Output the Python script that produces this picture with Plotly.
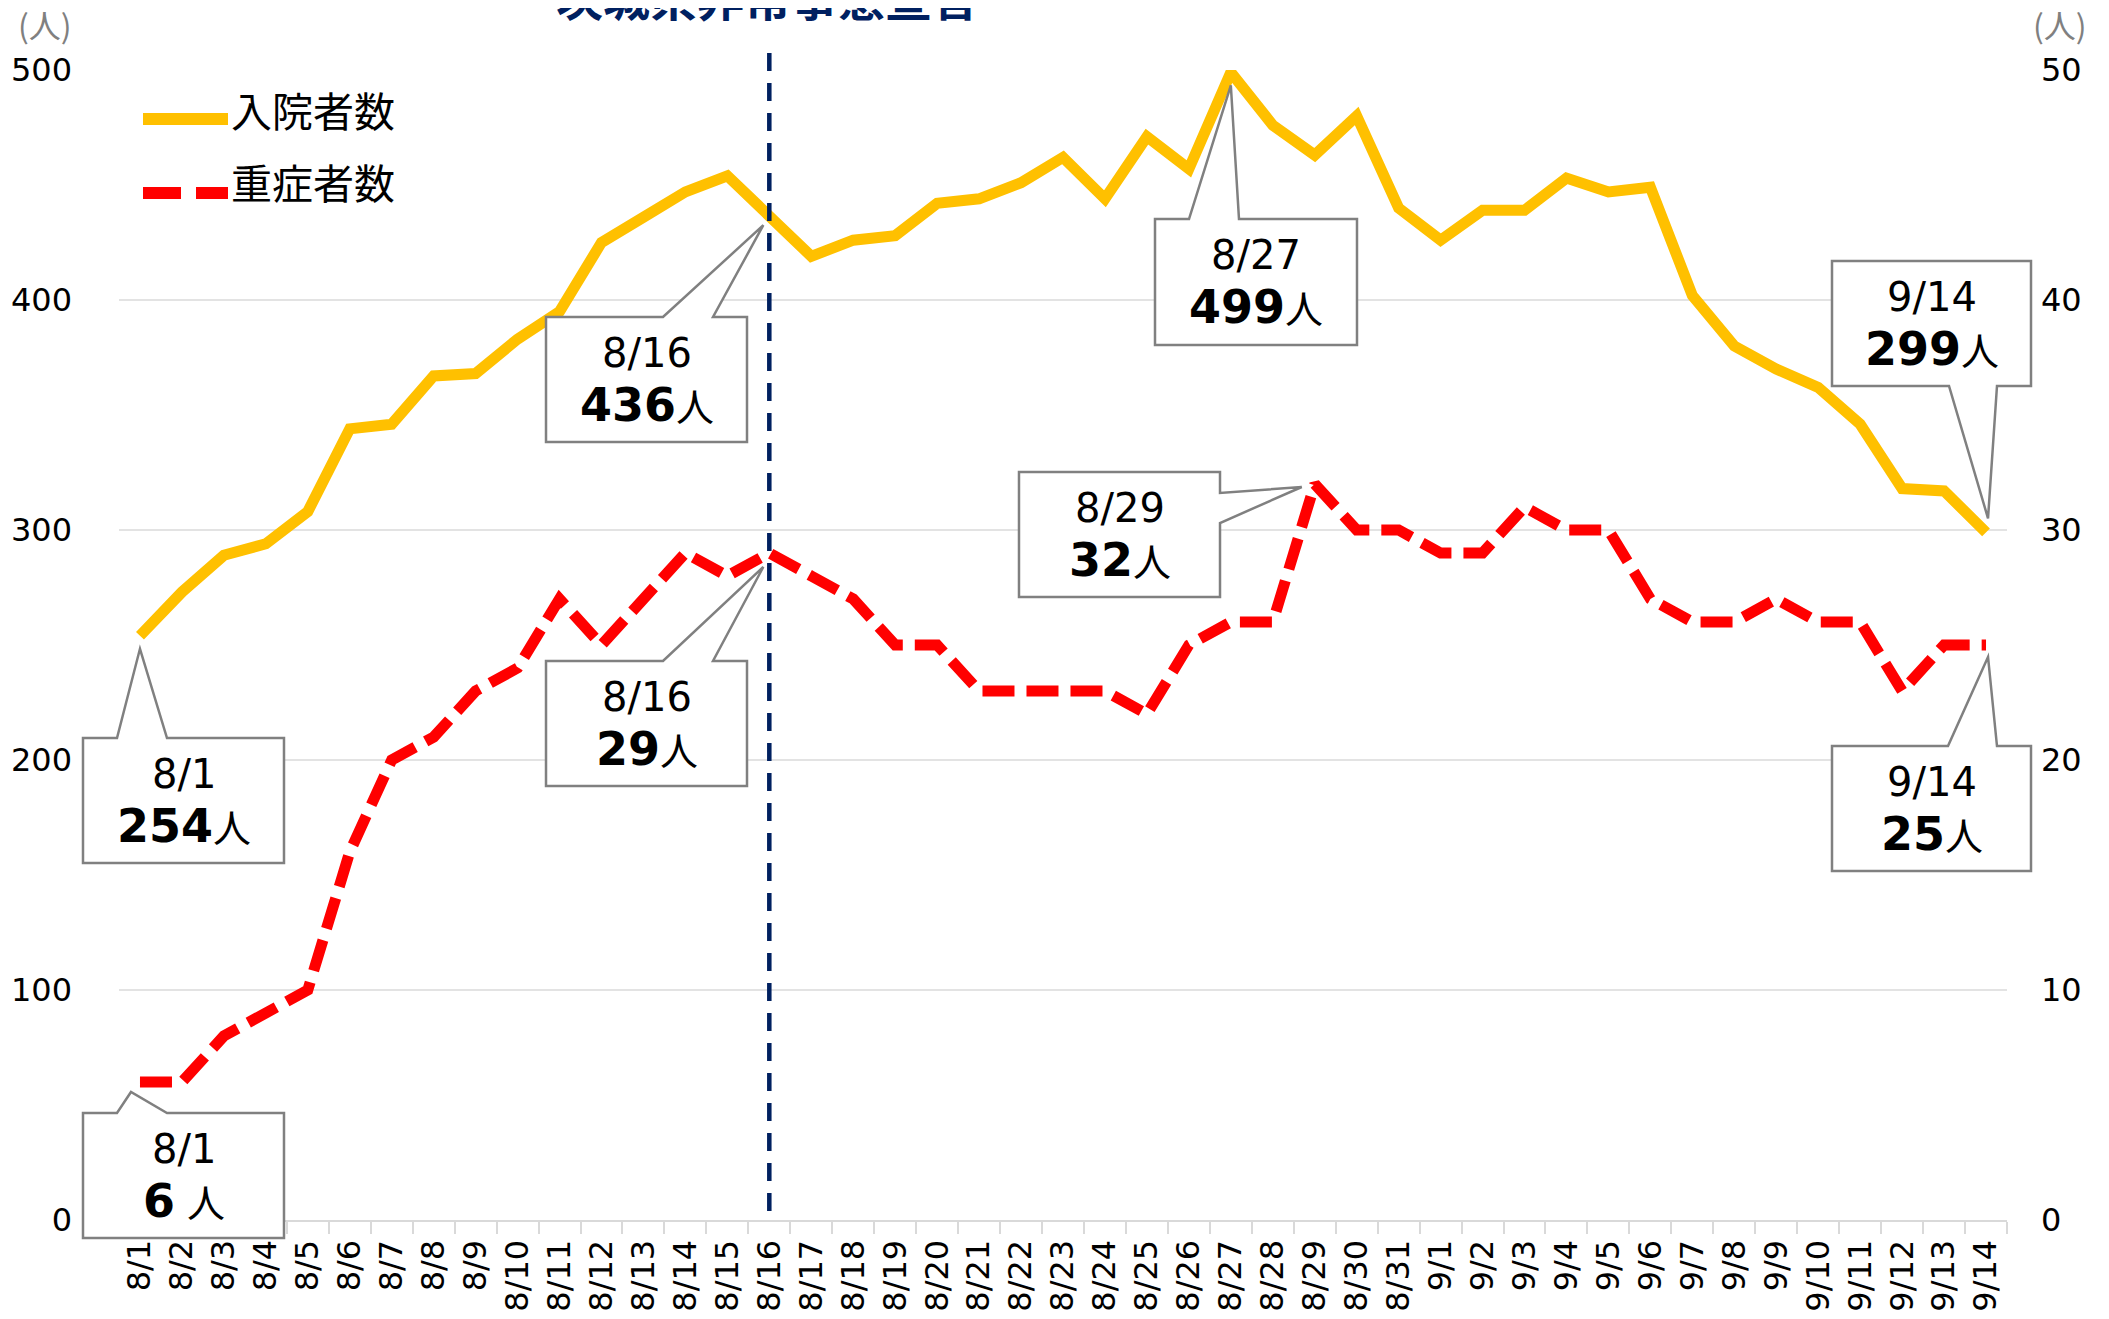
import plotly.graph_objects as go

# ---------------- data ----------------
dates = ["8/1", "8/2", "8/3", "8/4", "8/5", "8/6", "8/7", "8/8", "8/9", "8/10",
         "8/11", "8/12", "8/13", "8/14", "8/15", "8/16", "8/17", "8/18", "8/19", "8/20",
         "8/21", "8/22", "8/23", "8/24", "8/25", "8/26", "8/27", "8/28", "8/29", "8/30",
         "8/31", "9/1", "9/2", "9/3", "9/4", "9/5", "9/6", "9/7", "9/8", "9/9",
         "9/10", "9/11", "9/12", "9/13", "9/14"]
hospitalized = [254, 273, 289, 294, 308, 344, 346, 367, 368, 383,
                395, 425, 436, 447, 454, 436, 419, 426, 428, 442,
                444, 451, 462, 444, 471, 457, 499, 476, 463, 480,
                440, 426, 439, 439, 453, 447, 449, 402, 380, 370,
                362, 346, 318, 317, 299]
severe = [6, 6, 8, 9, 10, 16, 20, 21, 23, 24,
          27, 25, 27, 29, 28, 29, 28, 27, 25, 25,
          23, 23, 23, 23, 22, 25, 26, 26, 32, 30,
          30, 29, 29, 31, 30, 30, 27, 26, 26, 27,
          26, 26, 23, 25, 25]
left_ticks = [0, 100, 200, 300, 400, 500]
right_ticks = [0, 10, 20, 30, 40, 50]
series_names = ["入院者数", "重症者数"]
title_text = "茨城県非常事態宣言"
declaration_date = "8/16"

# ---------------- layout geometry (page pixels) ----------------
W, H = 2109, 1319
OFF = 8  # default body margin of the html page
L, R, T, B = 119, 102, 70, 99          # plot area in page coordinates
PW, PH = W - L - R, H - T - B
N = len(dates)
YELLOW = "#FFC000"
RED = "#FF0000"
NAVY = "#002060"
GRAY = "#808080"
FONT = "DejaVu Sans, Noto Sans CJK JP, sans-serif"
JFONT = "Noto Sans CJK JP, sans-serif"


def px_x(X):
    return (X - L) / PW


def px_y(Y):
    return (H - B - Y) / PH


def point_px(i, v, vmax):
    X = L + (i + 0.5) * PW / N
    Y = H - B - v / vmax * PH
    return X, Y


fig = go.Figure()
fig.add_trace(go.Scatter(x=dates, y=hospitalized, mode="lines", name=series_names[0],
                         line=dict(color=YELLOW, width=11), yaxis="y", showlegend=False))
fig.add_trace(go.Scatter(x=dates, y=severe, mode="lines", name=series_names[1],
                         line=dict(color=RED, width=11, dash="32px,12px"), yaxis="y2",
                         showlegend=False))

shapes = []
annotations = []

# declaration vertical dashed line (drawn top -> bottom so the dash pattern starts at the top)
shapes.append(dict(type="line", xref="x", yref="paper",
                   x0=dates.index(declaration_date), x1=dates.index(declaration_date),
                   y0=px_y(53), y1=0, line=dict(color=NAVY, width=4.5, dash="18px,12px"),
                   layer="above"))
annotations.append(dict(text="<b>" + title_text + "</b>", xref="paper", yref="paper",
                        x=px_x(767), y=px_y(32), xanchor="center", yanchor="bottom",
                        showarrow=False, font=dict(family=JFONT, size=47, color=NAVY)))

# callouts: (index, series, box(x0,y0,x1,y1), side, wedge base (a,b), tip offset, number, suffix)
callouts = [
    (0, "h", (83, 738, 284, 863), "top", (117, 167), (0, 13), "254", "人"),
    (0, "s", (83, 1113, 284, 1238), "top", (117, 167), (-9, 10), "6", " 人"),
    (15, "h", (546, 317, 747, 442), "top", (663, 713), (-6, 8), "436", "人"),
    (15, "s", (546, 661, 747, 786), "top", (663, 713), (-6, 14), "29", "人"),
    (26, "h", (1155, 219, 1357, 345), "top", (1189, 1239), (0, 13), "499", "人"),
    (28, "s", (1019, 472, 1220, 597), "right", (493, 523), (-13, 3), "32", "人"),
    (44, "h", (1832, 261, 2031, 386), "bottom", (1949, 1997), (2, -14), "299", "人"),
    (44, "s", (1832, 746, 2031, 871), "top", (1948, 1997), (2, 12), "25", "人"),
]

for i, s, (x0, y0, x1, y1), side, (a, b), (dx, dy), num, suf in callouts:
    v = hospitalized[i] if s == "h" else severe[i]
    vmax = 500 if s == "h" else 50
    tx, ty = point_px(i, v, vmax)
    tx, ty = tx + dx, ty + dy
    if side == "top":
        pts = [(x0, y0), (a, y0), (tx, ty), (b, y0), (x1, y0), (x1, y1), (x0, y1)]
    elif side == "bottom":
        pts = [(x0, y0), (x1, y0), (x1, y1), (b, y1), (tx, ty), (a, y1), (x0, y1)]
    else:  # right
        pts = [(x0, y0), (x1, y0), (x1, a), (tx, ty), (x1, b), (x1, y1), (x0, y1)]
    path = "M " + " L ".join(f"{px_x(X):.5f},{px_y(Y):.5f}" for X, Y in pts) + " Z"
    shapes.append(dict(type="path", xref="paper", yref="paper", path=path,
                       fillcolor="white", line=dict(color=GRAY, width=2.5), layer="above"))
    cx = (x0 + x1) / 2
    annotations.append(dict(text=dates[i], xref="paper", yref="paper", x=px_x(cx),
                            y=px_y(y0 + 36), xanchor="center", yanchor="middle",
                            showarrow=False, font=dict(family=FONT, size=40, color="black")))
    annotations.append(dict(text=f"<b>{num}</b><span style='font-size:38px'>{suf}</span>",
                            xref="paper", yref="paper", x=px_x(cx), y=px_y(y0 + 88),
                            xanchor="center", yanchor="middle", showarrow=False,
                            font=dict(family=FONT, size=46, color="black")))

# manual legend
shapes.append(dict(type="line", xref="paper", yref="paper", x0=px_x(143), x1=px_x(228),
                   y0=px_y(119), y1=px_y(119), line=dict(color=YELLOW, width=12), layer="above"))
for a, b in [(143, 181), (196, 228)]:
    shapes.append(dict(type="line", xref="paper", yref="paper", x0=px_x(a), x1=px_x(b),
                       y0=px_y(193), y1=px_y(193), line=dict(color=RED, width=12), layer="above"))
annotations.append(dict(text=series_names[0], xref="paper", yref="paper", x=px_x(229), y=px_y(109),
                        xanchor="left", yanchor="middle", showarrow=False,
                        font=dict(family=JFONT, size=41, color="black")))
annotations.append(dict(text=series_names[1], xref="paper", yref="paper", x=px_x(229), y=px_y(181),
                        xanchor="left", yanchor="middle", showarrow=False,
                        font=dict(family=JFONT, size=41, color="black")))

# unit labels
annotations.append(dict(text="(人)", xref="paper", yref="paper", x=px_x(45), y=px_y(24),
                        xanchor="center", yanchor="middle", showarrow=False,
                        font=dict(family=JFONT, size=32, color=GRAY)))
annotations.append(dict(text="(人)", xref="paper", yref="paper", x=px_x(2060), y=px_y(24),
                        xanchor="center", yanchor="middle", showarrow=False,
                        font=dict(family=JFONT, size=32, color=GRAY)))

fig.update_layout(
    width=W, height=H,
    margin=dict(l=L - OFF, r=R + OFF, t=T - OFF, b=B + OFF, autoexpand=False),
    paper_bgcolor="white", plot_bgcolor="white",
    showlegend=False,
    xaxis=dict(type="category", categoryorder="array", categoryarray=dates,
               range=[-0.5, N - 0.5], tickangle=-90, tickson="boundaries",
               ticks="outside", ticklen=12, tickcolor="#d9d9d9", tickwidth=2,
               showline=True, linecolor="#d9d9d9", linewidth=2, showgrid=False,
               zeroline=False, automargin=False, ticklabelstandoff=5,
               tickfont=dict(family=FONT, size=32, color="black")),
    yaxis=dict(range=[0, 500], tickvals=left_ticks, showgrid=True, gridcolor="#e3e3e3",
               gridwidth=1.5, zeroline=False, showline=False, ticks="",
               automargin=False, ticklabelstandoff=46,
               tickfont=dict(family=FONT, size=32, color="black")),
    yaxis2=dict(range=[0, 50], tickvals=right_ticks, overlaying="y", side="right",
                showgrid=False, zeroline=False, showline=False, ticks="",
                automargin=False, ticklabelstandoff=33,
                tickfont=dict(family=FONT, size=32, color="black")),
    shapes=shapes, annotations=annotations,
)

fig.write_html("out.html")
